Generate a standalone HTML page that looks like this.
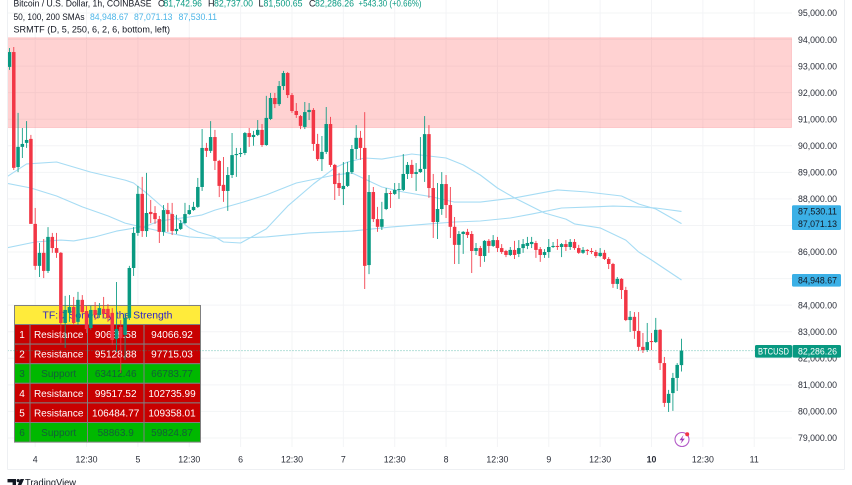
<!DOCTYPE html>
<html>
<head>
<meta charset="utf-8">
<title>BTCUSD chart</title>
<style>
html,body{margin:0;padding:0;background:#fff;width:852px;height:485px;overflow:hidden}
svg{display:block;font-family:"Liberation Sans",sans-serif}
text{font-family:"Liberation Sans",sans-serif}
</style>
</head>
<body>
<svg id="chart" width="852" height="485" viewBox="0 0 852 485" xmlns="http://www.w3.org/2000/svg">
<defs><clipPath id="plot-clip"><rect x="7.5" y="0" width="784" height="447"/></clipPath></defs>
<rect x="0" y="0" width="852" height="485" fill="#fff"/>
<g id="grid"></g>
<g id="zones"></g>

<g font-size="10" text-anchor="middle">
<rect x="14.5" y="305.5" width="186" height="19" fill="#ffeb3b" stroke="#808080"/>
<text x="107.5" y="318.5" font-size="10.4" fill="#2a1fc8">TF:D Sorted by the Strength</text>
<g>
<rect x="14.5" y="324.5" width="186" height="19.6" fill="#c80000" stroke="#808080"/>
<text x="22" y="338" fill="#fff">1</text>
<text x="58.7" y="338" fill="#fff">Resistance</text>
<text x="115.7" y="338" fill="#fff">90688.58</text>
<text x="172" y="338" fill="#fff">94066.92</text>
</g>
<g>
<rect x="14.5" y="344.1" width="186" height="19.6" fill="#c80000" stroke="#808080"/>
<text x="22" y="357.6" fill="#fff">2</text>
<text x="58.7" y="357.6" fill="#fff">Resistance</text>
<text x="115.7" y="357.6" fill="#fff">95128.88</text>
<text x="172" y="357.6" fill="#fff">97715.03</text>
</g>
<g>
<rect x="14.5" y="363.7" width="186" height="19.6" fill="#00b800" stroke="#808080"/>
<text x="22" y="377.2" fill="#125f38">3</text>
<text x="58.7" y="377.2" fill="#125f38">Support</text>
<text x="115.7" y="377.2" fill="#125f38">63412.46</text>
<text x="172" y="377.2" fill="#125f38">66783.77</text>
</g>
<g>
<rect x="14.5" y="383.3" width="186" height="19.6" fill="#c80000" stroke="#808080"/>
<text x="22" y="396.8" fill="#fff">4</text>
<text x="58.7" y="396.8" fill="#fff">Resistance</text>
<text x="115.7" y="396.8" fill="#fff">99517.52</text>
<text x="172" y="396.8" fill="#fff">102735.99</text>
</g>
<g>
<rect x="14.5" y="402.9" width="186" height="19.6" fill="#c80000" stroke="#808080"/>
<text x="22" y="416.4" fill="#fff">5</text>
<text x="58.7" y="416.4" fill="#fff">Resistance</text>
<text x="115.7" y="416.4" fill="#fff">106484.77</text>
<text x="172" y="416.4" fill="#fff">109358.01</text>
</g>
<g>
<rect x="14.5" y="422.5" width="186" height="19.6" fill="#00b800" stroke="#808080"/>
<text x="22" y="436" fill="#125f38">6</text>
<text x="58.7" y="436" fill="#125f38">Support</text>
<text x="115.7" y="436" fill="#125f38">58863.9</text>
<text x="172" y="436" fill="#125f38">59824.87</text>
</g>
<g stroke="#808080">
<line x1="30" y1="324.5" x2="30" y2="442"/>
<line x1="87.5" y1="324.5" x2="87.5" y2="442"/>
<line x1="144" y1="324.5" x2="144" y2="442"/>
</g>
</g>

<g id="price-line-layer" clip-path="url(#plot-clip)"></g>
<g id="sma-layer" clip-path="url(#plot-clip)" fill="none"></g>
<g id="candle-layer" clip-path="url(#plot-clip)"></g>

<g font-size="9" fill="#131722">
<text x="13.5" y="6.7" textLength="138" lengthAdjust="spacingAndGlyphs">Bitcoin / U.S. Dollar, 1h, COINBASE</text>
<text x="158" y="6.7">O</text>
<text x="163.5" y="6.7" fill="#089981" textLength="38.5" lengthAdjust="spacingAndGlyphs">81,742.96</text>
<text x="208" y="6.7">H</text>
<text x="214" y="6.7" fill="#089981" textLength="39" lengthAdjust="spacingAndGlyphs">82,737.00</text>
<text x="258.5" y="6.7">L</text>
<text x="263.5" y="6.7" fill="#089981" textLength="39" lengthAdjust="spacingAndGlyphs">81,500.65</text>
<text x="309" y="6.7">C</text>
<text x="315" y="6.7" fill="#089981" textLength="39" lengthAdjust="spacingAndGlyphs">82,286.26</text>
<text x="358.5" y="6.7" fill="#089981" textLength="63" lengthAdjust="spacingAndGlyphs">+543.30 (+0.66%)</text>
<text x="13.5" y="20" textLength="71" lengthAdjust="spacingAndGlyphs">50, 100, 200 SMAs</text>
<text x="90" y="20" fill="#4db6e8" textLength="38.5" lengthAdjust="spacingAndGlyphs">84,948.67</text>
<text x="134" y="20" fill="#4db6e8" textLength="38.5" lengthAdjust="spacingAndGlyphs">87,071.13</text>
<text x="178.5" y="20" fill="#4db6e8" textLength="38.5" lengthAdjust="spacingAndGlyphs">87,530.11</text>
<text x="13.5" y="32.5" textLength="156.5" lengthAdjust="spacingAndGlyphs">SRMTF (D, 5, 250, 6, 2, 6, bottom, left)</text>
</g>

<g id="y-axis" font-size="9" fill="#2a2e39"></g>
<g id="x-axis" font-size="8.8" fill="#2a2e39" text-anchor="middle"></g>

<g>
<rect x="792" y="205.2" width="49" height="24.8" rx="1.5" fill="#3bb0e6"/>
<text x="798" y="214.4" font-size="9" fill="#131722" textLength="39" lengthAdjust="spacingAndGlyphs">87,530.11</text>
<text x="798" y="226.8" font-size="9" fill="#131722" textLength="39" lengthAdjust="spacingAndGlyphs">87,071.13</text>
<rect x="792" y="274" width="49" height="12.6" rx="1.5" fill="#3bb0e6"/>
<text x="798" y="283.5" font-size="9" fill="#131722" textLength="39" lengthAdjust="spacingAndGlyphs">84,948.67</text>
<rect x="755" y="345" width="37" height="12.6" rx="1.5" fill="#089981"/>
<text x="758" y="354.5" font-size="9" fill="#fff" textLength="31" lengthAdjust="spacingAndGlyphs">BTCUSD</text>
<rect x="792.5" y="345" width="48.5" height="12.6" rx="1.5" fill="#089981"/>
<text x="798" y="354.5" font-size="9" fill="#fff" textLength="39" lengthAdjust="spacingAndGlyphs">82,286.26</text>
</g>

<g>
<circle cx="682" cy="439.5" r="7" fill="#fff" stroke="#b45cc8" stroke-width="1.1"/>
<path d="M683.5 435 L679.5 440.2 L682 440.2 L680.5 444 L684.8 438.6 L682.2 438.6 Z" fill="#a23bb8"/>
<circle cx="687.2" cy="434.2" r="2" fill="#f23645"/>
</g>

<g stroke="#eef0f3" fill="none">
<line x1="7.5" y1="0" x2="7.5" y2="469.5"/>
<line x1="7.5" y1="469.5" x2="844.5" y2="469.5"/>
<line x1="844.5" y1="0" x2="844.5" y2="469.5"/>
</g>

<g fill="#131722">
<path d="M7.5 479h8.5v7h-3.4v-3.6h-5.1z M20.5 479h3.6l-3.2 7h-3.6z"/>
<circle cx="18.2" cy="480.6" r="1.6"/>
<text x="25" y="486" font-size="10.5" textLength="51" lengthAdjust="spacingAndGlyphs">TradingView</text>
</g>
</svg>

<script>
const opens = [92970,93530,89200,89960,90110,90260,87060,85480,85970,85290,86570,86150,85970,83330,83710,83930,83370,84200,83780,83140,83820,83630,83860,83860,83710,82730,83180,82880,83520,85400,86720,88190,86790,87510,87470,87240,86760,87580,87430,86790,86870,87090,87430,87580,87700,88450,89920,89810,90330,89430,88530,88300,88900,89650,89690,89730,90480,90330,90410,90600,90030,91010,91800,91570,92250,92740,91910,91310,91120,90710,91270,91350,90070,89500,89770,90820,89280,88600,88370,88490,89010,89880,90300,89920,85510,88260,87240,86950,87620,88220,88190,88340,88340,88940,89280,88940,89010,89130,90440,88410,87130,87620,88560,87770,86950,86270,86680,86760,86680,86040,86150,85850,86420,86230,86450,86150,86040,85890,86080,85930,86150,86230,86300,86340,86110,85890,86000,86190,86230,86190,86300,86190,86380,86150,85970,86080,86040,86000,85850,85970,85740,85550,84800,84990,84570,83440,83560,83030,82430,82310,82650,82610,83070,81820,80320,80690,81260,81742.96];
const highs = [93680,93720,91240,90670,90930,90410,87660,86340,86490,86940,86720,86720,86000,84350,84380,84310,84500,84380,83970,83970,84120,84080,84310,84040,83890,84870,83440,83710,85480,86940,88490,88830,88980,87960,87730,87360,87770,87850,87850,87400,87210,87850,87770,87890,88790,90630,90110,90930,90600,89470,89580,89200,90480,89920,89920,90520,90670,90560,90970,90820,91880,91990,91990,92440,92820,92780,91990,91610,91160,91650,91610,91420,90450,90370,91460,91090,89320,88980,89390,89390,90030,90780,90560,91270,88900,88450,87700,87890,88410,88300,88600,88600,89690,89390,89470,89350,90330,91120,90780,88940,88600,89010,88900,88450,87320,86790,86790,86870,86790,86340,86230,86450,86490,86640,86570,86300,86080,86190,86420,86450,86490,86570,86570,86420,86190,86110,86490,86380,86490,86340,86450,86490,86490,86270,86190,86110,86150,86080,86150,86080,85810,85590,85060,85020,84690,83780,83740,83740,82950,83330,82950,83520,83100,82050,80810,81450,81820,82737];
const lows = [92860,89090,89010,89540,89920,87720,85330,85060,85020,85210,85970,85780,82580,82390,83370,83250,83250,83670,82950,83070,83440,83520,83520,83370,82500,82240,81450,81940,83440,85100,86610,86570,86570,87090,87060,86340,86610,86760,86640,86680,86830,87060,87400,87550,87660,88300,89580,89730,89090,88070,87890,87550,88790,88830,89580,89650,89960,90000,90370,89960,90000,90970,91420,91500,92100,91800,91240,91050,90630,90630,90970,89810,89430,89050,89690,89200,87960,88110,87770,88450,88940,89500,89470,84610,85170,87130,86760,86830,87580,87660,88150,88000,88300,88750,88790,88300,88980,88640,88040,86530,86490,87400,87280,86530,85550,85550,85930,86530,85210,85890,85440,85630,85970,86190,86000,85930,85810,85850,85740,85810,85970,86110,86150,85780,85630,85780,85780,86150,86080,85810,86040,86080,86080,85930,85930,85890,85930,85780,85810,85700,85360,84650,84610,84230,83400,82990,82730,82280,82200,82240,82310,82580,81560,80170,79980,80020,80770,81500.65];
const closes = [93530,89170,89960,90070,90220,87060,85480,85970,85290,86570,86150,85970,83330,83820,83930,83330,84200,83740,83100,83820,83630,83890,83670,83520,82690,83100,82760,83520,85400,86720,88190,86790,87470,87430,87240,86760,87580,87430,86790,86870,87090,87430,87580,87700,88450,89920,89810,90330,89430,88490,88300,88900,89650,89690,89730,90480,90330,90410,90600,90030,91050,91800,91570,92250,92740,91910,91310,91160,90750,91270,91350,90070,89500,89770,90820,89280,88560,88410,88490,89010,89880,90300,89920,85480,88260,87240,86950,87240,88220,88190,88340,88370,88940,89280,88940,89010,89130,90440,88410,87130,87620,88560,87770,86950,86270,86680,86760,86640,86040,86150,85850,86420,86230,86450,86150,86000,85890,86080,85890,86150,86300,86340,86380,86080,85890,86000,86190,86230,86190,86300,86190,86380,86150,85970,86080,86040,86000,85850,85970,85740,85550,84800,84990,84570,83440,83560,83030,82430,82310,82610,82610,83070,81820,80320,80660,81260,81750,82286.26];

const sma50Bars = [-1,4,11,19,27,29,32,36,42,44,48,50,54,60,65,71,76,79,83,87,94,102,106,110,114,118,125,130,132,138,144,147,150,157];
const sma50Values = [88790,89320,89390,89010,88710,88600,88220,87660,86910,86760,86570,86380,86340,86870,87730,88560,89170,89390,89540,89500,89690,89540,89280,88900,88410,88040,87470,87240,87060,86910,86450,86000,85700,84948.67];
const sma100Bars = [-1,6,12,15,20,25,32,35,42,45,48,54,60,67,76,80,83,87,92,99,104,110,118,123,128,135,143,147,151,157];
const sma100Values = [86150,86380,86450,86420,86570,86790,86980,87170,87320,87400,87580,87850,88150,88600,88900,88980,88750,88450,88260,88070,87880,87880,88040,88190,88340,88260,88110,87810,87620,87071.13];
const sma200Bars = [-1,5,11,17,23,27,31,37,42,46,54,60,70,80,89,98,104,110,117,122,129,136,141,147,151,157];
const sma200Values = [88600,88410,88110,87700,87360,87090,86940,86720,86570,86530,86530,86570,86720,86790,86940,87060,87130,87170,87280,87430,87660,87700,87730,87700,87660,87530.11];

const priceTicks = [95000,94000,93000,92000,91000,90000,89000,88000,87000,86000,85000,84000,83000,82000,81000,80000,79000];
const priceTickLabels = ["95,000.00","94,000.00","93,000.00","92,000.00","91,000.00","90,000.00","89,000.00","88,000.00","87,000.00","86,000.00","85,000.00","84,000.00","83,000.00","82,000.00","81,000.00","80,000.00","79,000.00"];
const timeTickBars = [6,18,30,42,54,66,78,90,102,114,126,138,150,162,174];
const timeTickLabels = ["4","12:30","5","12:30","6","12:30","7","12:30","8","12:30","9","12:30","10","12:30","11"];
const zoneHigh = 94066.92;
const zoneLow = 90688.58;
const lastPrice = 82286.26;

const NS = 'http://www.w3.org/2000/svg';
function xScale(bar) { return 9.5 + bar * 4.28; }
function yScale(price) { return 13 + (95000 - price) / 37.65; }
function make(tag, parent) {
  const el = document.createElementNS(NS, tag);
  parent.appendChild(el);
  return el;
}
function attrs(el, map) {
  for (const k in map) el.setAttribute(k, map[k]);
}

const gridLayer = document.getElementById('grid');
const yAxis = document.getElementById('y-axis');
const xAxis = document.getElementById('x-axis');
const zoneLayer = document.getElementById('zones');
const priceLineLayer = document.getElementById('price-line-layer');
const smaLayer = document.getElementById('sma-layer');
const candleLayer = document.getElementById('candle-layer');

priceTicks.forEach(function (p, i) {
  const line = make('line', gridLayer);
  
  
  attrs(line, { x1: 7.5, x2: 792, y1: yScale(p), y2: yScale(p), stroke: '#f3f4f6', 'stroke-width': 1 });
  const label = make('text', yAxis);
  
  
  attrs(label, { x: 798, y: yScale(p) + 3.2, textLength: 39, lengthAdjust: 'spacingAndGlyphs' });
  label.textContent = priceTickLabels[i];
});

timeTickBars.forEach(function (b, i) {
  const line = make('line', gridLayer);
  
  
  attrs(line, { x1: xScale(b), x2: xScale(b), y1: 0, y2: 447, stroke: '#f3f4f6', 'stroke-width': 1 });
  const label = make('text', xAxis);
  
  
  attrs(label, { x: xScale(b), y: 462.5 });
  if (timeTickLabels[i] === '10') label.setAttribute('font-weight', 'bold');
  label.textContent = timeTickLabels[i];
});

const zone = make('rect', zoneLayer);


attrs(zone, { x: 7.5, y: yScale(zoneHigh), width: 784, height: yScale(zoneLow) - yScale(zoneHigh), fill: 'rgba(255,80,80,0.26)', stroke: 'rgba(242,54,69,0.18)', 'stroke-width': 1 });

const priceLine = make('line', priceLineLayer);


attrs(priceLine, { x1: 7.5, x2: 792, y1: yScale(lastPrice), y2: yScale(lastPrice), stroke: '#089981', 'stroke-width': 1, 'stroke-dasharray': '1 2', opacity: 0.6 });

function drawSma(bars, values, name) {
  const pts = bars.map(function (b, i) { return xScale(b).toFixed(1) + ',' + yScale(values[i]).toFixed(1); }).join(' ');
  const line = make('polyline', smaLayer);
  
  
  attrs(line, { points: pts, stroke: '#a6dcf4', 'stroke-width': 1.1, 'stroke-linejoin': 'round' });
}
drawSma(sma50Bars, sma50Values, 'sma-50-line');
drawSma(sma100Bars, sma100Values, 'sma-100-line');
drawSma(sma200Bars, sma200Values, 'sma-200-line');

closes.forEach(function (c, i) {
  const o = opens[i];
  const up = c >= o;
  const color = up ? '#089981' : '#f23645';
  const cx = xScale(i);
  const g = make('g', candleLayer);
  
  
  const wick = make('line', g);
  
  
  attrs(wick, { x1: cx, x2: cx, y1: yScale(highs[i]), y2: yScale(lows[i]), stroke: color, 'stroke-width': 0.85 });
  const body = make('rect', g);
  
  
  const top = yScale(Math.max(o, c));
  const h = Math.max(Math.abs(yScale(o) - yScale(c)), 0.9);
  attrs(body, { x: cx - 1.75, y: top, width: 3.5, height: h, fill: color });
});
</script>
</body>
</html>
